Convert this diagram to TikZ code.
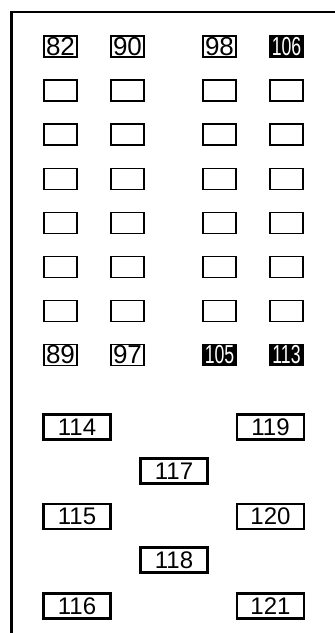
\documentclass[tikz,border=0pt]{standalone}
\usepackage{fontspec}
\usepackage{graphicx}
\usepackage{xcolor}
\setmainfont{Liberation Sans}

\begin{document}
\begin{tikzpicture}[x=1pt,y=-1pt,
    small_box/.style={rectangle,draw,line width=1.5pt,minimum width=33pt,minimum height=21pt,inner sep=0pt,font=\fontsize{26}{26}\selectfont},
    dark_box/.style={small_box,fill=black,text=white},
    big_box/.style={rectangle,draw,line width=2.6pt,minimum width=67pt,minimum height=25pt,inner sep=0pt,font=\fontsize{24}{24}\selectfont}]

    \useasboundingbox (0,0) rectangle (335,633);

    % frame
    \draw[line width=2.5pt] (11.3,633) -- (11.3,12) -- (335,12);

    \node[small_box] (82) at (60.5, 46.5) {82};
    \node[small_box] (83) at (60.5, 90.5) {};
    \node[small_box] (84) at (60.5, 134.5) {};
    \node[small_box] (85) at (60.5, 179) {};
    \node[small_box] (86) at (60.5, 223) {};
    \node[small_box] (87) at (60.5, 267) {};
    \node[small_box] (88) at (60.5, 311) {};
    \node[small_box] (89) at (60.5, 355) {89};

    \node[small_box] (90) at (127.5, 46.5) {90};
    \node[small_box] (91) at (127.5, 90.5) {};
    \node[small_box] (92) at (127.5, 134.5) {};
    \node[small_box] (93) at (127.5, 179) {};
    \node[small_box] (94) at (127.5, 223) {};
    \node[small_box] (95) at (127.5, 267) {};
    \node[small_box] (96) at (127.5, 311) {};
    \node[small_box] (97) at (127.5, 355) {97};

    \node[small_box] (98) at (219.5, 46.5) {98};
    \node[small_box] (99) at (219.5, 90.5) {};
    \node[small_box] (100) at (219.5, 134.5) {};
    \node[small_box] (101) at (219.5, 179) {};
    \node[small_box] (102) at (219.5, 223) {};
    \node[small_box] (103) at (219.5, 267) {};
    \node[small_box] (104) at (219.5, 311) {};
    \node[dark_box] (105) at (219.5, 355) {\scalebox{0.68}[1]{105}};

    \node[dark_box] (106) at (286.5, 46.5) {\scalebox{0.68}[1]{106}};
    \node[small_box] (107) at (286.5, 90.5) {};
    \node[small_box] (108) at (286.5, 134.5) {};
    \node[small_box] (109) at (286.5, 179) {};
    \node[small_box] (110) at (286.5, 223) {};
    \node[small_box] (111) at (286.5, 267) {};
    \node[small_box] (112) at (286.5, 311) {};
    \node[dark_box] (113) at (286.5, 355) {\scalebox{0.68}[1]{113}};

    \node[big_box] (114) at (77, 427) {114};
    \node[big_box] (115) at (77, 516.5) {115};
    \node[big_box] (116) at (77, 606) {116};
    \node[big_box] (117) at (174, 471) {117};
    \node[big_box] (118) at (174, 560) {118};
    \node[big_box] (119) at (270.5, 427) {119};
    \node[big_box] (120) at (270.5, 516.5) {120};
    \node[big_box] (121) at (270.5, 606) {121};
    \end{tikzpicture}
\end{document}
